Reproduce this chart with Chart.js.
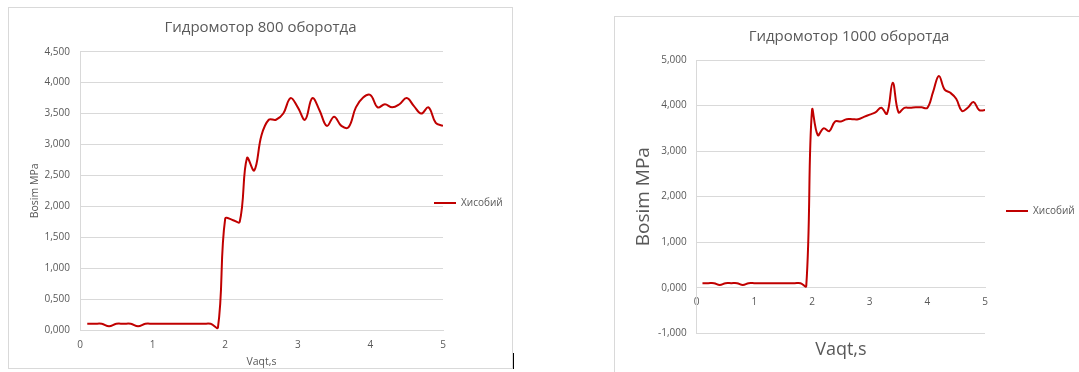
<!DOCTYPE html>
<html>
<head>
<meta charset="utf-8">
<title>Гидромотор</title>
<script src="https://cdn.jsdelivr.net/npm/chart.js"></script>
<style>
  html, body { margin: 0; padding: 0; background: #fff; overflow: hidden; }
  body { width: 1079px; height: 372px; position: relative; }
  .box { position: absolute; border: 1px solid #d9d9d9; background: #fff; }
  #box800 { left: 8px; top: 7px; width: 503px; height: 360px; }
  #box1000 { left: 614px; top: 16px; width: 468px; height: 358px; }
  .box canvas { display: block; }
  #cursor { position: absolute; left: 513px; top: 353px; width: 1px; height: 16px; background: #000; }
</style>
</head>
<body>

<div class="box" id="box800"><canvas id="chart800" width="503" height="360"></canvas></div>
<div class="box" id="box1000"><canvas id="chart1000" width="468" height="358"></canvas></div>
<div id="cursor"></div>

<script>
  // time, s
  const TIME = [0.1, 0.2, 0.3, 0.4, 0.5, 0.6, 0.7, 0.8, 0.9, 1.0,
                1.1, 1.2, 1.3, 1.4, 1.5, 1.6, 1.7, 1.8, 1.9, 2.0,
                2.1, 2.2, 2.3, 2.4, 2.5, 2.6, 2.7, 2.8, 2.9, 3.0,
                3.1, 3.2, 3.3, 3.4, 3.5, 3.6, 3.7, 3.8, 3.9, 4.0,
                4.1, 4.2, 4.3, 4.4, 4.5, 4.6, 4.7, 4.8, 4.9, 5.0];

  // pressure at 800 rpm
  const P800 = [0.1, 0.1, 0.1, 0.06, 0.1, 0.1, 0.1, 0.06, 0.1, 0.1,
                0.1, 0.1, 0.1, 0.1, 0.1, 0.1, 0.1, 0.1, 0.04, 1.8,
                1.78, 1.75, 2.78, 2.58, 3.15, 3.4, 3.4, 3.5, 3.75, 3.6,
                3.4, 3.75, 3.55, 3.3, 3.45, 3.3, 3.28, 3.6, 3.76, 3.8,
                3.6, 3.65, 3.6, 3.65, 3.75, 3.62, 3.5, 3.6, 3.35, 3.3];

  // pressure at 1000 rpm
  const P1000 = [0.1, 0.1, 0.1, 0.06, 0.1, 0.1, 0.1, 0.06, 0.1, 0.1,
                 0.1, 0.1, 0.1, 0.1, 0.1, 0.1, 0.1, 0.1, 0.04, 3.9,
                 3.35, 3.5, 3.44, 3.65, 3.65, 3.7, 3.7, 3.7, 3.75, 3.8,
                 3.85, 3.95, 3.82, 4.5, 3.85, 3.95, 3.95, 3.96, 3.96, 3.95,
                 4.3, 4.65, 4.35, 4.28, 4.15, 3.88, 3.95, 4.08, 3.9, 3.9];

  const X_TICKS = [0, 1, 2, 3, 4, 5];
  const Y_TICKS_800 = [0, 0.5, 1, 1.5, 2, 2.5, 3, 3.5, 4, 4.5];
  const Y_TICKS_1000 = [-1, 0, 1, 2, 3, 4, 5];

  const LINE = '#C00000';
  const GRID = '#d9d9d9';
  const TEXT = '#595959';

  Chart.defaults.font.family = "'Open Sans', sans-serif";
  Chart.defaults.color = TEXT;

  const fmt = v => Number(v).toFixed(3).replace('.', ',');
  const useTicks = arr => scale => { scale.ticks = arr.map(v => ({ value: v })); };

  // moves the legend next to the plot like in the excel sheet
  function nudgeLegend(dx, dy) {
    return {
      id: 'nudgeLegend',
      afterLayout(chart) {
        const l = chart.legend;
        l.left += dx;
        l.right = chart.width;
        l.top += dy; l.bottom += dy;
      }
    };
  }

  function series(values) {
    return [{
      label: 'Хисобий',
      data: TIME.map((t, i) => ({ x: t, y: values[i] })),
      borderColor: LINE,
      backgroundColor: LINE,
      borderWidth: 2,
      pointRadius: 0,
      tension: 0.4
    }];
  }

  function legendOpts(maxWidth) {
    return {
      position: 'right',
      maxWidth: maxWidth,
      labels: {
        usePointStyle: true,
        pointStyle: 'line',
        pointStyleWidth: 22,
        padding: 24,
        font: { size: 10 },
        color: TEXT
      }
    };
  }

  // 800
  new Chart(document.getElementById('chart800'), {
    type: 'line',
    data: { datasets: series(P800) },
    options: {
      responsive: false,
      animation: false,
      layout: { padding: 0 },
      scales: {
        x: {
          type: 'linear',
          min: 0, max: 5,
          afterBuildTicks: useTicks(X_TICKS),
          afterFit: s => { s.height = 38; },
          grid: { display: false, drawTicks: false },
          border: { display: true, color: GRID },
          ticks: { padding: 9, maxRotation: 0, font: { size: 10 }, color: TEXT },
          title: { display: true, text: 'Vaqt,s', font: { size: 10.5 }, color: TEXT, padding: 0 }
        },
        y: {
          min: 0, max: 4.5,
          afterBuildTicks: useTicks(Y_TICKS_800),
          afterFit: s => { s.width = 71; },
          grid: { color: GRID, drawTicks: false },
          border: { display: true, color: GRID },
          ticks: { padding: 10, font: { size: 10 }, color: TEXT, callback: fmt },
          title: { display: true, text: 'Bosim MPa', font: { size: 10.5 }, color: TEXT, padding: { top: 19.4, bottom: 0 } }
        }
      },
      plugins: {
        title: { display: true, text: 'Гидромотор 800 оборотда', font: { size: 15, weight: 'normal' }, color: TEXT, padding: { top: 10.5, bottom: 15.2 } },
        legend: legendOpts(69),
        tooltip: { enabled: false }
      }
    },
    plugins: [nudgeLegend(-33, 15)]
  });

  // 1000
  new Chart(document.getElementById('chart1000'), {
    type: 'line',
    data: { datasets: series(P1000) },
    options: {
      responsive: false,
      animation: false,
      layout: { padding: 0 },
      scales: {
        x: {
          type: 'linear',
          position: { y: 0 },
          min: 0, max: 5,
          afterBuildTicks: useTicks(X_TICKS),
          grid: { display: false, drawTicks: false },
          border: { display: true, color: GRID },
          ticks: { padding: 8.4, maxRotation: 0, font: { size: 10 }, color: TEXT }
        },
        y: {
          min: -1, max: 5,
          afterBuildTicks: useTicks(Y_TICKS_1000),
          afterFit: s => { s.width = 81.7; },
          grid: { color: GRID, drawTicks: false },
          border: { display: true, color: GRID },
          ticks: { padding: 10, font: { size: 10 }, color: TEXT, callback: fmt },
          title: { display: true, text: 'Bosim MPa', font: { size: 19 }, color: TEXT, padding: { top: 17.6, bottom: 0 } }
        }
      },
      plugins: {
        title: { display: true, text: 'Гидромотор 1000 оборотда', font: { size: 15, weight: 'normal' }, color: TEXT, padding: { top: 10.5, bottom: 14.5 } },
        subtitle: { display: true, text: 'Vaqt,s', position: 'bottom', fullSize: false, font: { size: 18 }, color: TEXT, padding: { top: 5.9, bottom: 14.2 } },
        legend: legendOpts(98),
        tooltip: { enabled: false }
      }
    },
    plugins: [nudgeLegend(-3, 15)]
  });
</script>
</body>
</html>
